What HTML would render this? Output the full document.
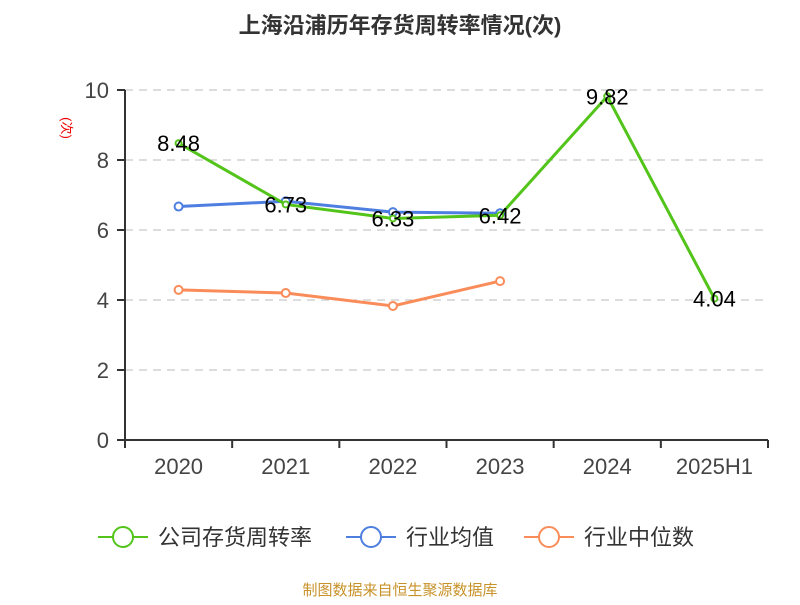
<!DOCTYPE html>
<html><head><meta charset="utf-8"><style>
body{margin:0;background:#fff;}
svg text{font-family:"Liberation Sans","Noto Sans CJK SC",sans-serif;}
</style></head><body>
<svg id="chart" width="800" height="600" viewBox="0 0 800 600" xmlns="http://www.w3.org/2000/svg">
<text x="400" y="33" text-anchor="middle" font-size="22" font-weight="bold" fill="#333">上海沿浦历年存货周转率情况(次)</text>
<text transform="translate(62,128) rotate(90)" text-anchor="middle" font-size="13" fill="#e00">(次)</text>
<g id="grid"></g><g id="axes"></g><g id="series"></g>
<g>
<g><line x1="98" y1="537" x2="148" y2="537" stroke="#52c41a" stroke-width="2"/><circle cx="123" cy="537" r="10" fill="#fff" stroke="#52c41a" stroke-width="2"/><text x="158" y="545" font-size="22" fill="#333">公司存货周转率</text></g>
<g><line x1="346" y1="537" x2="396" y2="537" stroke="#4e7fe0" stroke-width="2"/><circle cx="371" cy="537" r="10" fill="#fff" stroke="#4e7fe0" stroke-width="2"/><text x="406" y="545" font-size="22" fill="#333">行业均值</text></g>
<g><line x1="524" y1="537" x2="574" y2="537" stroke="#fa8c5a" stroke-width="2"/><circle cx="549" cy="537" r="10" fill="#fff" stroke="#fa8c5a" stroke-width="2"/><text x="584" y="545" font-size="22" fill="#333">行业中位数</text></g>
</g>
<text x="400" y="595" text-anchor="middle" font-size="15" fill="#c8922a">制图数据来自恒生聚源数据库</text>
</svg>
<script>
const categories=["2020","2021","2022","2023","2024","2025H1"];
const companyValues=[8.48,6.73,6.33,6.42,9.82,4.04];
const avgValues=[6.67,6.82,6.51,6.48,null,null];
const medianValues=[4.29,4.2,3.83,4.54,null,null];
const yTicks=[0,2,4,6,8,10];
const NS="http://www.w3.org/2000/svg";
const L=125,R=768,T=90,B=440,yMax=10;
const band=(R-L)/categories.length;
const x=i=>L+band*(i+0.5);
const y=v=>B-(v/yMax)*(B-T);
function mk(tag,attrs,parent){const e=document.createElementNS(NS,tag);for(const k in attrs)e.setAttribute(k,attrs[k]);parent.appendChild(e);return e;}
const grid=document.getElementById('grid'),axes=document.getElementById('axes'),ser=document.getElementById('series');
yTicks.forEach(t=>{
 if(t>0){const g=mk('line',{x1:L,x2:R,y1:y(t),y2:y(t),stroke:'#bbb','stroke-dasharray':'8,6'},grid);
 
 }
 const tk=mk('line',{x1:L-8,x2:L,y1:y(t),y2:y(t),stroke:'#333','stroke-width':2},axes);
 
 
 const tl=mk('text',{x:L-16,y:y(t)+8,'text-anchor':'end','font-size':22,fill:'#444'},axes);
 tl.textContent=t;
 
 
});
const ya=mk('line',{x1:L,x2:L,y1:T,y2:B,stroke:'#333','stroke-width':2},axes);


const xa=mk('line',{x1:L,x2:R,y1:B,y2:B,stroke:'#333','stroke-width':2},axes);


for(let i=0;i<=categories.length;i++){
 const t=mk('line',{x1:L+band*i,x2:L+band*i,y1:B,y2:B+8,stroke:'#333','stroke-width':2},axes);
 
 
}
categories.forEach((c,i)=>{
 const t=mk('text',{x:x(i),y:B+34,'text-anchor':'middle','font-size':22,fill:'#444'},axes);
 t.textContent=c;
 
 
});
function series(vals,color,name,r,labels){
 const pts=vals.map((v,i)=>v==null?null:[x(i),y(v)]).filter(p=>p);
 const pl=mk('polyline',{points:pts.map(p=>p.join(',')).join(' '),fill:'none',stroke:color,'stroke-width':3},ser);
 
 
 vals.forEach((v,i)=>{if(v==null)return;
  const c=mk('circle',{cx:x(i),cy:y(v),r:r,fill:'#fff',stroke:color,'stroke-width':2},ser);
  
  
  if(labels){const t=mk('text',{x:x(i),y:y(v)+8,'text-anchor':'middle','font-size':22,fill:'#000'},ser);
   t.textContent=v.toFixed(2);
   
   }
 });
}
series(medianValues,'#fa8c5a','industry-median',4,false);
series(avgValues,'#4e7fe0','industry-avg',4,false);
series(companyValues,'#52c41a','company',3,true);
</script>
</body></html>
